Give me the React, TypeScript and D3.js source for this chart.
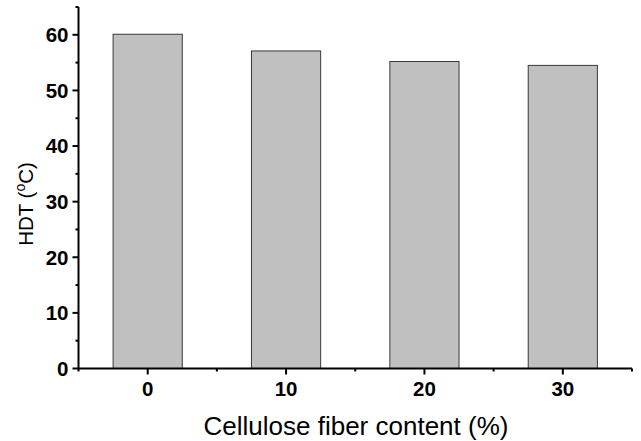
import React from "react";
import * as d3 from "d3";

const categories = ["0", "10", "20", "30"];
const hdtValues = [60.1, 57.1, 55.2, 54.5];
const yMajorTicks = [0, 10, 20, 30, 40, 50, 60];
const yMinorTicks = [5, 15, 25, 35, 45, 55, 65];

const width = 641;
const height = 441;
const margin = { top: 7, right: 9, bottom: 72.5, left: 78.5 };
const font = "'Liberation Sans', Arial, Helvetica, sans-serif";

const App = () => {
    const x = d3.scaleBand<string>()
        .domain(categories)
        .range([margin.left, width - margin.right])
        .paddingInner(0.5)
        .paddingOuter(0.25);

    const y = d3.scaleLinear()
        .domain([0, 65])
        .range([height - margin.bottom, margin.top]);

    const baseY = y(0);
    const step = x.step();
    const start = margin.left;
    // minor ticks sit between categories and at both ends of the axis
    const xMinor = d3.range(categories.length + 1).map(i => start + i * step);

    return (
        <svg width={width} height={height}
            style={{ position: "absolute", left: 0, top: 0, background: "#fff" }}>
            {categories.map((c, i) => (
                <rect key={c}
                    x={x(c)}
                    y={y(hdtValues[i])}
                    width={x.bandwidth()}
                    height={baseY - y(hdtValues[i])}
                    fill="#c0c0c0"
                    stroke="#3a3a3a"
                    strokeWidth={1} />
            ))}

            {/* y axis */}
            <line x1={margin.left} x2={margin.left} y1={y(65)} y2={baseY + 1}
                stroke="#000" strokeWidth={2} />
            {yMajorTicks.map(t => (
                <g key={t}>
                    <line x1={margin.left - 6} x2={margin.left} y1={y(t)} y2={y(t)}
                        stroke="#000" strokeWidth={2} />
                    <text x={margin.left - 10} y={y(t)} dy="0.36em" textAnchor="end"
                        fontFamily={font} fontWeight="bold" fontSize={20.5}>{t}</text>
                </g>
            ))}
            {yMinorTicks.map(t => (
                <line key={t} x1={margin.left - 3} x2={margin.left} y1={y(t)} y2={y(t)}
                    stroke="#000" strokeWidth={2} />
            ))}

            {/* x axis */}
            <line x1={margin.left - 1} x2={width - margin.right} y1={baseY} y2={baseY}
                stroke="#000" strokeWidth={2} />
            {categories.map(c => {
                const cx = (x(c) ?? 0) + x.bandwidth() / 2;
                return (
                    <g key={c}>
                        <line x1={cx} x2={cx} y1={baseY} y2={baseY + 6}
                            stroke="#000" strokeWidth={2} />
                        <text x={cx} y={396} textAnchor="middle"
                            fontFamily={font} fontWeight="bold" fontSize={20.5}>{c}</text>
                    </g>
                );
            })}
            {xMinor.map((mx, i) => (
                <line key={i} x1={mx} x2={mx} y1={baseY} y2={baseY + 3}
                    stroke="#000" strokeWidth={2} />
            ))}

            <text x={356} y={435} textAnchor="middle" fontFamily={font} fontSize={26}>
                Cellulose fiber content (%)
            </text>

            <text transform={`translate(33,204) rotate(-90)`} textAnchor="middle"
                fontFamily={font} fontSize={20.5}>
                HDT (<tspan fontSize={14} dy={-8}>o</tspan><tspan dy={8}>C)</tspan>
            </text>
        </svg>
    );
};

export default App;
